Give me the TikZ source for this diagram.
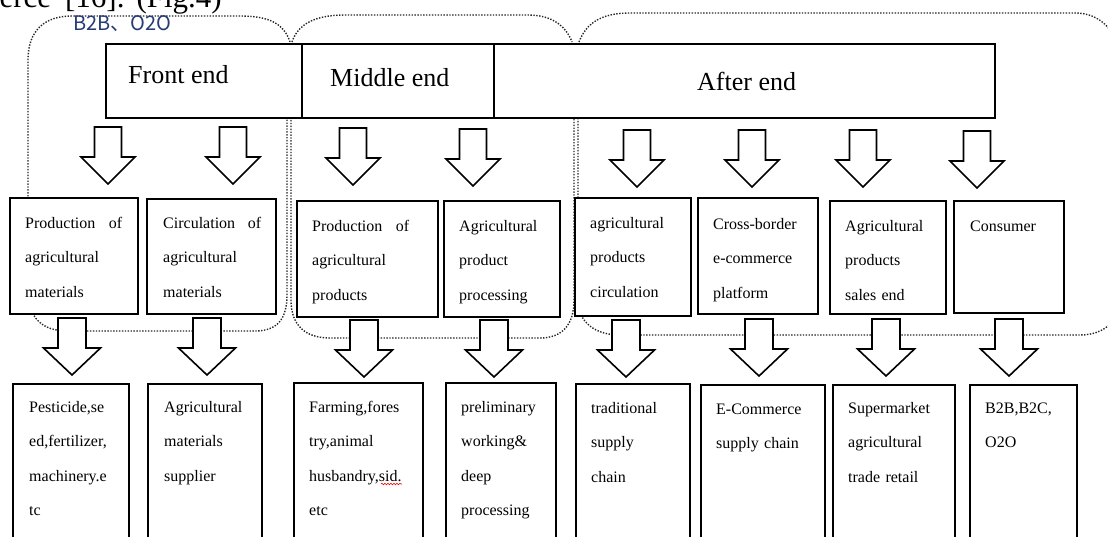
\documentclass[tikz,border=0pt]{standalone}
\usepackage{fontspec}
\setmainfont{Liberation Serif}
\newfontfamily\cjkfont{Noto Sans CJK SC}
\usetikzlibrary{calc,decorations.pathmorphing}
\definecolor{navyink}{RGB}{38,60,118}
\tikzset{
  region/.style={draw=black!85, line width=1.4pt, dash pattern=on 1.4pt off 1.5pt},
  cellbox/.style={draw, line width=1.6pt, fill=white, inner sep=0pt, anchor=north west},
  hdrbox/.style={draw, line width=1.9pt, fill=white, inner sep=0pt, anchor=north west},
  celltxt/.style={font=\fontsize{16}{34.5}\selectfont, text width=130pt, align=left, inner sep=0pt, anchor=base west},
  hdrtxt/.style={font=\fontsize{26}{30}\selectfont, inner sep=0pt, anchor=base west},
  downA/.pic={\draw[line width=1.6pt, fill=white, line join=miter]
     (-13.5,0) -- (-13.5,30) -- (-27,30) -- (0,57) -- (27,30) -- (13.5,30) -- (13.5,0) -- cycle;},
  downB/.pic={\draw[line width=1.6pt, fill=white, line join=miter]
     (-14,0) -- (-14,30) -- (-28.5,30) -- (0,57) -- (28.5,30) -- (14,30) -- (14,0) -- cycle;}
}
\begin{document}
\begin{tikzpicture}[x=1pt,y=-1pt]
\useasboundingbox (0,0) rectangle (1108,536);

% cut-off caption line at the very top
\node[font=\fontsize{31}{34}\selectfont, inner sep=0pt, anchor=base east] (cap) at (222,7) {commerce\hspace{14pt}[16].\hspace{12pt}(Fig.4)};

% dotted regions
\draw[region] (290,42) .. controls (284,24) and (270,16) .. (240,16) -- (72,16)
   .. controls (45,16) and (28,30) .. (28,60) -- (28,290)
   .. controls (28,318) and (42,331) .. (68,331) -- (255,331)
   .. controls (278,331) and (287,318) .. (287,295) -- (287,117);
\draw[region] (292,42) .. controls (298,24) and (315,15) .. (345,15) -- (528,15)
   .. controls (552,15) and (566,26) .. (572,42);
\draw[region] (291,117) -- (291,300) .. controls (291,325) and (305,338) .. (330,338)
   -- (540,338) .. controls (562,338) and (574,325) .. (574,300) -- (574,117);
\draw[region] (579,42) .. controls (586,24) and (600,13) .. (630,13) -- (1075,13)
   .. controls (1100,13) and (1115,30) .. (1122,55) -- (1122,290)
   .. controls (1122,320) and (1105,335) .. (1080,335) -- (620,335)
   .. controls (595,335) and (578,322) .. (578,300) -- (578,117);

\node[font=\cjkfont\fontsize{20}{22}\selectfont, text=navyink, inner sep=0pt, anchor=base west] (tag) at (73,30) {B2B、O2O};

% header
\node[hdrbox, minimum width=196, minimum height=74] (front) at (105,43) {};
\node[hdrbox, minimum width=192, minimum height=74] (middle) at (301,43) {};
\node[hdrbox, minimum width=501, minimum height=74] (after) at (493,43) {};
\node[hdrtxt] (frontT) at ($(front.north west)+(23,40)$) {Front end};
\node[hdrtxt] (middleT) at ($(middle.north west)+(29,43)$) {Middle end};
\node[hdrtxt] (afterT) at ($(after.north west)+(204,47)$) {After end};

% upper block arrows
\pic (a1) at (108,127) {downA};
\pic (a2) at (233,127) {downA};
\pic (a3) at (353,128) {downA};
\pic (a4) at (473,129) {downA};
\pic (a5) at (637,130) {downA};
\pic (a6) at (752,130) {downA};
\pic (a7) at (863,130) {downA};
\pic (a8) at (977,131) {downA};

% middle row boxes
\node[cellbox, minimum width=128, minimum height=116] (m1) at (9,197) {};
\node[cellbox, minimum width=129, minimum height=115] (m2) at (146,198) {};
\node[cellbox, minimum width=141, minimum height=116] (m3) at (296,200) {};
\node[cellbox, minimum width=116, minimum height=116] (m4) at (443,200) {};
\node[cellbox, minimum width=116, minimum height=118] (m5) at (574,197) {};
\node[cellbox, minimum width=120, minimum height=116] (m6) at (697,197) {};
\node[cellbox, minimum width=116, minimum height=113] (m7) at (829,200) {};
\node[cellbox, minimum width=110, minimum height=112] (m8) at (953,200) {};

\node[celltxt] (t1) at ($(m1.north west)+(16,31)$) {\hbox to 97pt{Production\hfill of}\\agricultural\\materials};
\node[celltxt] (t2) at ($(m2.north west)+(17,30)$) {\hbox to 98pt{Circulation\hfill of}\\agricultural\\materials};
\node[celltxt] (t3) at ($(m3.north west)+(16,31)$) {\hbox to 97pt{Production\hfill of}\\agricultural\\products};
\node[celltxt] (t4) at ($(m4.north west)+(16,31)$) {Agricultural\\product\\processing};
\node[celltxt] (t5) at ($(m5.north west)+(16,31)$) {agricultural\\products\\circulation};
\node[celltxt] (t6) at ($(m6.north west)+(16,32)$) {Cross-border\\e-commerce\\platform};
\node[celltxt] (t7) at ($(m7.north west)+(16,31)$) {Agricultural\\products\\sales end};
\node[celltxt] (t8) at ($(m8.north west)+(17,31)$) {Consumer};

% lower block arrows
\pic (c1) at (72,318) {downB};
\pic (c2) at (207,318) {downB};
\pic (c3) at (364,320) {downB};
\pic (c4) at (494,320) {downB};
\pic (c5) at (626,320) {downB};
\pic (c6) at (759,319) {downB};
\pic (c7) at (886,319) {downB};
\pic (c8) at (1009,319) {downB};

% bottom row boxes
\node[cellbox, minimum width=116, minimum height=170] (b1) at (12,383) {};
\node[cellbox, minimum width=114, minimum height=170] (b2) at (147,383) {};
\node[cellbox, minimum width=129, minimum height=170] (b3) at (293,382) {};
\node[cellbox, minimum width=110, minimum height=170] (b4) at (445,382) {};
\node[cellbox, minimum width=114, minimum height=170] (b5) at (575,383) {};
\node[cellbox, minimum width=124, minimum height=170] (b6) at (700,384) {};
\node[cellbox, minimum width=122, minimum height=170] (b7) at (832,384) {};
\node[cellbox, minimum width=107, minimum height=170] (b8) at (969,384) {};

\node[celltxt] (u1) at ($(b1.north west)+(17,29)$) {Pesticide,se\\ed,fertilizer,\\machinery.e\\tc};
\node[celltxt] (u2) at ($(b2.north west)+(17,29)$) {Agricultural\\materials\\supplier};
\node[celltxt] (u3) at ($(b3.north west)+(16,30)$) {Farming,fores\\try,animal\\husbandry,sid.\\etc};
\node[celltxt] (u4) at ($(b4.north west)+(16,30)$) {preliminary\\working\&\\deep\\processing};
\node[celltxt] (u5) at ($(b5.north west)+(16,30)$) {traditional\\supply\\chain};
\node[celltxt] (u6) at ($(b6.north west)+(16,30)$) {E-Commerce\\supply chain};
\node[celltxt] (u7) at ($(b7.north west)+(16,29)$) {Supermarket\\agricultural\\trade retail};
\node[celltxt] (u8) at ($(b8.north west)+(16,29)$) {B2B,B2C,\\O2O};

% spell-check underline under "sid"
\draw[red, line width=0.6pt, decorate, decoration={snake, amplitude=0.8pt, segment length=3pt}] (381,484) -- (402,484);
\end{tikzpicture}
\end{document}
